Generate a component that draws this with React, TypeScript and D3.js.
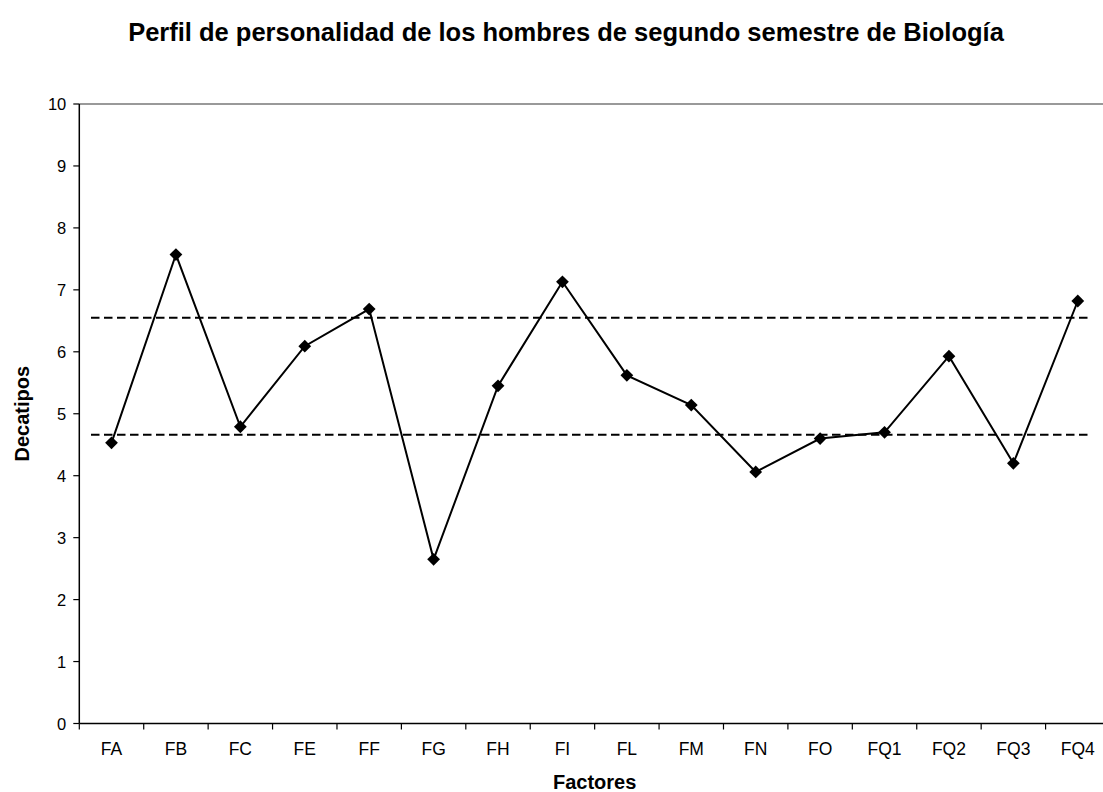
import * as d3 from "d3";

const categories = ["FA", "FB", "FC", "FE", "FF", "FG", "FH", "FI", "FL", "FM", "FN", "FO", "FQ1", "FQ2", "FQ3", "FQ4"];
const decatipos = [4.53, 7.57, 4.79, 6.09, 6.69, 2.65, 5.45, 7.13, 5.62, 5.14, 4.06, 4.6, 4.7, 5.93, 4.2, 6.82];
const referenceLines = [6.55, 4.66];
const yTicks = [0, 1, 2, 3, 4, 5, 6, 7, 8, 9, 10];

const title = "Perfil de personalidad de los hombres de segundo semestre de Biología";
const xTitle = "Factores";
const yTitle = "Decatipos";

const W = 1103;
const H = 792;
const font = "'Liberation Sans', Arial, Helvetica, sans-serif";

// plot area (right edge runs past the picture like the original)
const left = 79.3;
const right = 1110;
const top = 104;
const bottom = 723.5;

const x = d3.scaleBand<string>().domain(categories).range([left, right]);
const y = d3.scaleLinear().domain([0, 10]).range([bottom, top]);

const line = d3
  .line<number>()
  .x((_, i) => x(categories[i])! + x.bandwidth() / 2)
  .y((d) => y(d));

const diamond = d3.symbol().type(d3.symbolDiamond2).size(104);

export default function App() {
  const ticksX = d3.range(categories.length + 1).map((i) => left + i * x.bandwidth());
  return (
    <svg
      width={W}
      height={H}
      style={{ position: "absolute", left: 0, top: 0, background: "#fff", overflow: "hidden" }}
      fontFamily={font}
    >
      <rect width={W} height={H} fill="#fff" />
      <text x={566} y={41} textAnchor="middle" fontSize={25.5} fontWeight="bold">
        {title}
      </text>

      {/* plot border (top) */}
      <line x1={left} x2={right} y1={top} y2={top} stroke="#999" strokeWidth={2} />

      {/* reference lines */}
      {referenceLines.map((v) => (
        <line
          key={v}
          x1={left + 11.7}
          x2={right - 18}
          y1={y(v)}
          y2={y(v)}
          stroke="#000"
          strokeWidth={2}
          strokeDasharray="8.5,4.5"
        />
      ))}

      {/* y axis */}
      <line x1={left} x2={left} y1={top} y2={bottom} stroke="#000" strokeWidth={1.5} />
      {yTicks.map((t) => (
        <g key={t}>
          <line x1={left - 6} x2={left} y1={y(t)} y2={y(t)} stroke="#000" strokeWidth={1.2} />
          <text x={left - 13} y={y(t) + 6} textAnchor="end" fontSize={16.5}>
            {t}
          </text>
        </g>
      ))}

      {/* x axis */}
      <line x1={left} x2={right} y1={bottom} y2={bottom} stroke="#000" strokeWidth={1.5} />
      {ticksX.map((t, i) => (
        <line key={i} x1={t} x2={t} y1={bottom} y2={bottom + 6} stroke="#000" strokeWidth={1.2} />
      ))}
      {categories.map((c) => (
        <text key={c} x={x(c)! + x.bandwidth() / 2} y={755} textAnchor="middle" fontSize={17.5}>
          {c}
        </text>
      ))}

      <text x={(left + right) / 2} y={789} textAnchor="middle" fontSize={20} fontWeight="bold">
        {xTitle}
      </text>
      <text
        transform={`translate(29,${(top + bottom) / 2}) rotate(-90)`}
        textAnchor="middle"
        fontSize={20}
        fontWeight="bold"
      >
        {yTitle}
      </text>

      {/* series */}
      <path d={line(decatipos) || undefined} fill="none" stroke="#000" strokeWidth={2} />
      {decatipos.map((v, i) => (
        <path
          key={i}
          d={diamond() || undefined}
          transform={`translate(${x(categories[i])! + x.bandwidth() / 2},${y(v)})`}
          fill="#000"
        />
      ))}
    </svg>
  );
}
